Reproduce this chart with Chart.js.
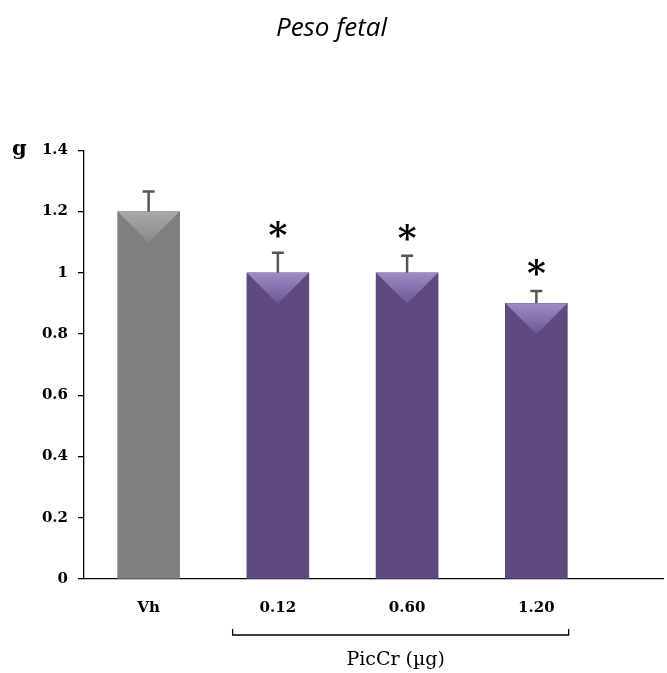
<!DOCTYPE html>
<html>
<head>
<meta charset="utf-8">
<script src="https://cdn.jsdelivr.net/npm/chart.js@4"></script>
<style>
  html, body { margin: 0; padding: 0; background: #fff; }
  #wrap { width: 667px; height: 673px; }
</style>
</head>
<body>
<div id="wrap"><canvas id="chart"></canvas></div>
<script>
const categories = ["Vh", "0.12", "0.60", "1.20"];
const means = [1.2, 1.0, 1.0, 0.9];
const errors = [0.065, 0.065, 0.055, 0.04];
const marks = ["", "*", "*", "*"];
const groupRange = [1.15, 3.75];
const groupLabel = "PicCr (µg)";
const unitLabel = "g";

const barColors = ["#7f7f7f", "#5e4a7e", "#5e4a7e", "#5e4a7e"];
const bevelColors = ["#a8a8a8", "#a08cc4", "#a08cc4", "#a08cc4"];
const bevelEnd = ["#8a8a8a", "#6c5890", "#6c5890", "#6c5890"];

// bar tops, error whiskers, stars, group bracket and the "g" unit
const extras = {
  id: "extras",
  afterDatasetsDraw(chart) {
    const ctx = chart.ctx;
    const meta = chart.getDatasetMeta(0);
    const y = chart.scales.y;
    const x = chart.scales.x;
    ctx.save();
    meta.data.forEach((bar, i) => {
      const half = bar.width / 2;
      const left = bar.x - half;
      const right = bar.x + half;
      // light bevel on top
      const g = ctx.createLinearGradient(0, bar.y, 0, bar.y + half);
      g.addColorStop(0, bevelColors[i]);
      g.addColorStop(1, bevelEnd[i]);
      ctx.fillStyle = g;
      ctx.beginPath();
      ctx.moveTo(left, bar.y);
      ctx.lineTo(right, bar.y);
      ctx.lineTo(bar.x, bar.y + half);
      ctx.closePath();
      ctx.fill();

      // error bar (upper only)
      const capY = y.getPixelForValue(means[i] + errors[i]);
      ctx.strokeStyle = "#555";
      ctx.lineWidth = 2.5;
      ctx.beginPath();
      ctx.moveTo(bar.x, bar.y);
      ctx.lineTo(bar.x, capY);
      ctx.moveTo(bar.x - 6, capY);
      ctx.lineTo(bar.x + 6, capY);
      ctx.stroke();

      if (marks[i]) {
        ctx.fillStyle = "#000";
        ctx.font = "bold 36px 'DejaVu Serif'";
        ctx.textAlign = "center";
        ctx.textBaseline = "alphabetic";
        ctx.fillText(marks[i], bar.x, capY - 6);
      }
    });

    // bracket under the treated groups
    const bx1 = x.getPixelForValue(groupRange[0]);
    const bx2 = x.getPixelForValue(groupRange[1]);
    const by = chart.chartArea.bottom + 56;
    ctx.strokeStyle = "#000";
    ctx.lineWidth = 1.3;
    ctx.beginPath();
    ctx.moveTo(bx1, by - 6);
    ctx.lineTo(bx1, by);
    ctx.lineTo(bx2, by);
    ctx.lineTo(bx2, by - 6);
    ctx.stroke();
    ctx.fillStyle = "#000";
    ctx.font = "19px 'DejaVu Serif'";
    ctx.textAlign = "center";
    ctx.textBaseline = "middle";
    ctx.fillText(groupLabel, (bx1 + bx2) / 2 - 5, by + 25);

    ctx.font = "bold 21px 'DejaVu Serif'";
    ctx.textAlign = "left";
    ctx.fillText(unitLabel, 12, chart.chartArea.top - 1);
    ctx.restore();
  }
};

new Chart(document.getElementById("chart"), {
  type: "bar",
  data: {
    datasets: [{
      data: means.map((v, i) => ({ x: i + 0.5, y: v })),
      backgroundColor: barColors,
      borderWidth: 0,
      barThickness: 62
    }]
  },
  options: {
    responsive: true,
    maintainAspectRatio: false,
    animation: false,
    layout: { padding: { left: 0, right: 4, top: 0, bottom: 0 } },
    plugins: {
      legend: { display: false },
      tooltip: { enabled: false },
      title: {
        display: true,
        text: "Peso fetal",
        color: "#000",
        font: { family: "'Open Sans'", size: 26, style: "italic", weight: "normal" },
        padding: { top: 13, bottom: 106 }
      }
    },
    scales: {
      x: {
        type: "linear",
        min: 0,
        max: 4.48,
        offset: false,
        grid: { display: false, offset: false },
        border: { display: true, color: "#000", width: 1.3 },
        afterBuildTicks: (s) => { s.ticks = categories.map((c, i) => ({ value: i + 0.5 })); },
        afterFit: (s) => { s.height = 94; },
        ticks: {
          color: "#000",
          padding: 12,
          maxRotation: 0,
          font: { family: "'DejaVu Serif'", size: 15, weight: "bold" },
          callback: (v, i) => categories[i]
        }
      },
      y: {
        min: 0,
        max: 1.4,
        grid: { display: true, drawOnChartArea: false, drawTicks: true, tickLength: 6, color: "#000", lineWidth: 1.3 },
        border: { display: true, color: "#000", width: 1.3 },
        afterFit: (s) => { s.width = 84; },
        ticks: {
          stepSize: 0.2,
          color: "#000",
          padding: 10,
          font: { family: "'DejaVu Serif'", size: 15, weight: "bold" },
          callback: (v) => Number(v.toFixed(1)).toString()
        }
      }
    }
  },
  plugins: [extras]
});
</script>
</body>
</html>
